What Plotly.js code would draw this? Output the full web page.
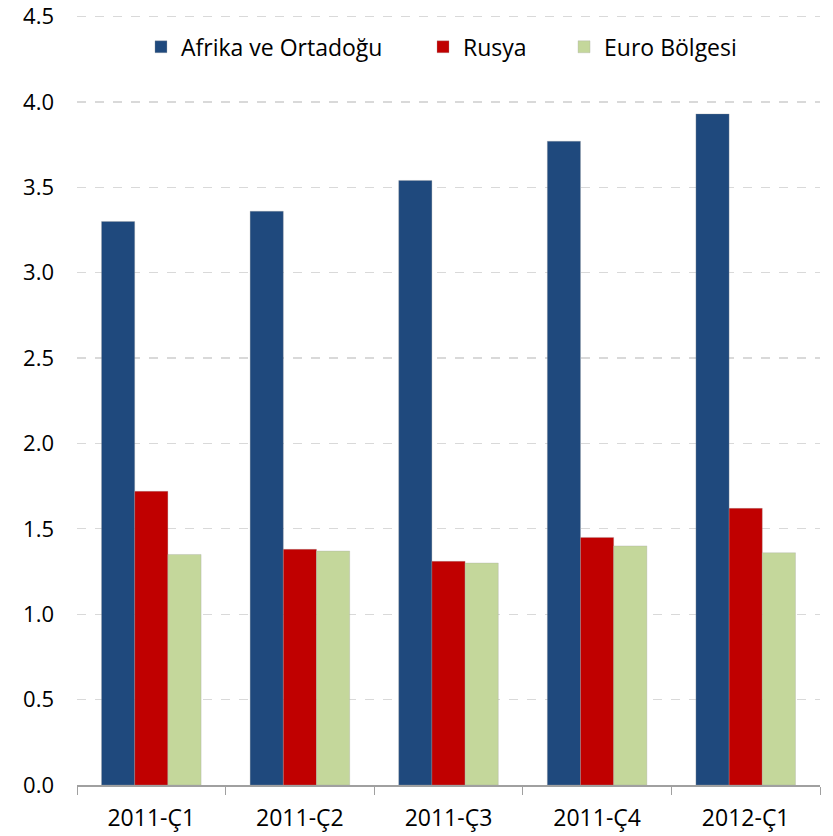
<!DOCTYPE html>
<html>
<head>
<meta charset="utf-8">
<script src="https://cdn.plot.ly/plotly-3.0.1.min.js"></script>
<style>html,body{margin:0;padding:0;background:#fff;}#chart{width:833px;height:836px;}</style>
</head>
<body>
<div id="chart"></div>
<script>
const categories = ["2011-Ç1", "2011-Ç2", "2011-Ç3", "2011-Ç4", "2012-Ç1"];
const afrika = [3.30, 3.36, 3.54, 3.77, 3.93];
const rusya = [1.72, 1.38, 1.31, 1.45, 1.62];
const euro = [1.35, 1.37, 1.30, 1.40, 1.36];
const seriesNames = ["Afrika ve Ortadoğu", "Rusya", "Euro Bölgesi"];
const tickVals = [0, 0.5, 1, 1.5, 2, 2.5, 3, 3.5, 4, 4.5];
const tickText = ["0.0", "0.5", "1.0", "1.5", "2.0", "2.5", "3.0", "3.5", "4.0", "4.5"];

const colors = ["#1F497D", "#C00000", "#C4D79B"];
const legendIds = ["legend", "legend2", "legend3"];
const legendX = [0.0861, 0.4657, 0.6555];
const vals = [afrika, rusya, euro];
const traces = vals.map((v, i) => ({
  type: "bar",
  name: seriesNames[i],
  x: categories,
  y: v,
  legend: legendIds[i],
  marker: {color: colors[i], line: {color: "rgba(160,160,160,0.6)", width: 0.5}},
  hoverinfo: "skip"
}));

const layout = {
  width: 833, height: 836,
  margin: {l: 77, r: 13, t: 8, b: 51},
  paper_bgcolor: "#fff", plot_bgcolor: "#fff",
  font: {family: "Open Sans, Liberation Sans, sans-serif", size: 23, color: "#000"},
  barmode: "group",
  bargap: 0.33,
  bargroupgap: 0,
  showlegend: true,
  xaxis: {
    type: "category", tickson: "boundaries", ticks: "outside", ticklen: 8, tickcolor: "#A0A0A0",
    showline: true, linecolor: "#A0A0A0", linewidth: 1.5, showgrid: false,
    ticklabelstandoff: 12, tickfont: {size: 23}, fixedrange: true
  },
  yaxis: {
    range: [0, 4.55], tickvals: tickVals, ticktext: tickText, ticklabeloverflow: "allow",
    showline: false, showgrid: true, gridcolor: "#D9D9D9", griddash: "dash", gridwidth: 1.2,
    zeroline: false, ticks: "", ticklabelstandoff: 22, tickfont: {size: 22}, fixedrange: true
  }
};
legendIds.forEach((id, i) => {
  layout[id] = {orientation: "h", x: legendX[i], xanchor: "left", y: 0.95, yanchor: "middle",
                font: {size: 23}, bgcolor: "rgba(255,255,255,0)"};
});

Plotly.newPlot("chart", traces, layout, {displayModeBar: false, staticPlot: true});
</script>
</body>
</html>
